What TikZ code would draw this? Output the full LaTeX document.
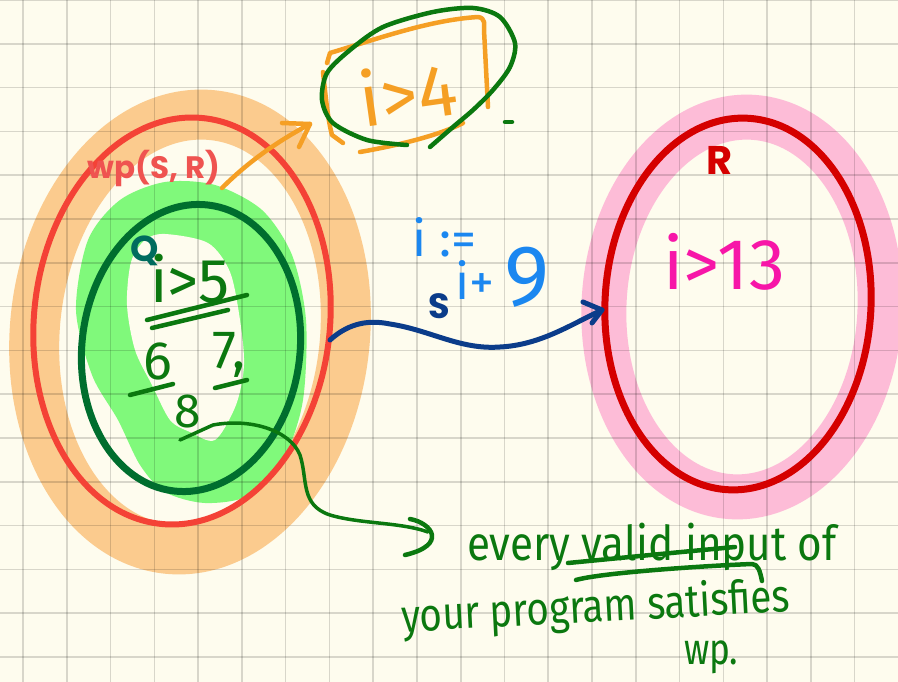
\documentclass[tikz,border=0pt]{standalone}
\usepackage{fontspec}
\usepackage{graphicx}
\setmainfont{Fira Sans}
\newfontfamily\lbl{Poppins}
\definecolor{bg}{HTML}{FEFCEE}
\definecolor{orband}{HTML}{FBCB8E}
\definecolor{wpred}{HTML}{F44236}
\definecolor{wplbl}{HTML}{EF5350}
\definecolor{lgreen}{HTML}{80F97B}
\definecolor{qgreen}{HTML}{006E2E}
\definecolor{qteal}{HTML}{006C5E}
\definecolor{hgreen}{HTML}{0B780F}
\definecolor{orpen}{HTML}{F59F24}
\definecolor{navy}{HTML}{0B3C8A}
\definecolor{bluepen}{HTML}{1B87F0}
\definecolor{pinkband}{HTML}{FDBCD7}
\definecolor{rred}{HTML}{D50000}
\definecolor{magpen}{HTML}{F716A8}
\tikzset{
  pen/.style={line width=4.5, line cap=round, line join=round},
  hand/.style={inner sep=0pt, outer sep=0pt},
  lab/.style={inner sep=0pt, font=\lbl\bfseries}
}
\begin{document}
\begin{tikzpicture}[x=1pt,y=-1pt]
\useasboundingbox (0,0) rectangle (898,682);
\fill[bg] (0,0) rectangle (898,682);
% highlighter bands
\draw[orband, line width=50, rotate around={-6:(190,332)}] (190,332) ellipse [x radius=155, y radius=218];
\fill[lgreen] plot[smooth cycle] coordinates {(165,182) (215,185) (262,210) (292,255) (306,320) (303,400) (285,455) (250,495) (205,503) (165,492) (140,465) (118,420) (92,375) (76,310) (88,240) (120,200)};
\fill[bg] plot[smooth cycle] coordinates {(165,234) (208,243) (230,272) (240,320) (244,365) (236,405) (215,440) (190,432) (170,420) (152,385) (135,350) (127,305) (131,262) (145,240)};
\draw[pinkband, line width=45, rotate around={-3:(742,307)}] (742,307) ellipse [x radius=138, y radius=190];
% grid
\foreach \i in {0,...,20} \draw[black, opacity=0.15, line width=1.6] ({23+43.77*\i},0) -- ({23+43.77*\i},682);
\foreach \j in {0,...,15} \draw[black, opacity=0.15, line width=1.6] (0,{43.8*\j}) -- (898,{43.8*\j});
% ellipses
\draw[wpred, line width=6, rotate around={-6:(182,321)}] (182,321) ellipse [x radius=148, y radius=204];
\draw[qgreen, line width=7, rotate around={-7:(191,348)}] (191,348) ellipse [x radius=109, y radius=144];
\draw[rred, line width=7, rotate around={-3:(738,304)}] (738,304) ellipse [x radius=133, y radius=186];
% labels
\node[lab, text=wplbl, font=\lbl\bfseries\fontsize{31}{31}\selectfont] (wp) at (154,168) {wp(S, R)};
\node[lab, text=qteal, font=\lbl\bfseries\fontsize{36}{36}\selectfont] (q) at (145,251) {Q};
\node[lab, text=rred, font=\lbl\bfseries\fontsize{40}{40}\selectfont] (r) at (720,160) {R};
\node[lab, text=navy, font=\lbl\bfseries\fontsize{35}{35}\selectfont] (s) at (439,306) {S};
% orange arrow and i>4
\coordinate (oa1) at (222,188);
\coordinate (oa2) at (310,124);
\draw[orpen, pen] (oa1) .. controls (250,160) and (280,140) .. (oa2);
\draw[orpen, pen] (282,123) -- (oa2) -- (299,147);
\draw[orpen, pen] (327,63) -- (330,53) .. controls (380,38) and (430,20) .. (478,17) .. controls (486,18) and (484,25) .. (484,30) -- (488,107);
\draw[orpen, pen] (323,72) .. controls (326,100) and (328,120) .. (332,135) -- (343,143);
\draw[orpen, pen] (360,152) .. controls (400,145) and (440,135) .. (463,123);
\node[hand, text=orpen, rotate=8, font=\fontsize{74}{74}\selectfont] (i4) at (408,92) {i>4};
\draw[hgreen, pen] plot[smooth] coordinates {(407,145) (367,140) (333,123) (322,100) (327,73) (350,50) (383,27) (433,12) (473,8) (500,17) (515,43) (510,67) (493,90) (473,110) (453,127) (430,147)};
\draw[hgreen, pen] (505,122) -- (512,122);
% Q contents
\node[hand, text=hgreen, font=\fontsize{62}{62}\selectfont] (i5) at (190,279) {i>5};
\draw[hgreen, pen] (147,320) -- (247,295);
\draw[hgreen, pen] (152,328) -- (228,310);
\node[hand, text=hgreen, font=\fontsize{54}{54}\selectfont] (n6) at (158,361) {6};
\draw[hgreen, pen] (130,395) -- (173,384);
\node[hand, text=hgreen, font=\fontsize{54}{54}\selectfont] (n7) at (229,355) {7,};
\draw[hgreen, pen] (215,388) -- (247,380);
\node[hand, text=hgreen, font=\fontsize{48}{48}\selectfont] (n8) at (188,411) {8};
% green arrow to note
\coordinate (g0) at (180,440);
\coordinate (g1) at (213,425);
\coordinate (g2) at (428,532);
\draw[hgreen, line width=3.5, line cap=round, line join=round] (g0) -- (g1) .. controls (250,418) and (290,430) .. (300,455) .. controls (308,480) and (300,505) .. (330,515) .. controls (360,524) and (400,522) .. (g2);
\draw[hgreen, pen] (410,519) .. controls (432,523) and (448,545) .. (405,555);
% S arrow
\coordinate (sa0) at (330,340);
\coordinate (sa1) at (602,310);
\draw[navy, line width=5, line cap=round, line join=round] (sa0) .. controls (350,322) and (370,320) .. (390,324) .. controls (430,330) and (460,350) .. (500,347) .. controls (540,345) and (570,325) .. (sa1);
\draw[navy, line width=5, line cap=round, line join=round] (583,302) -- (sa1) -- (592,323);
% blue text
\node[hand, text=bluepen, anchor=base west, font=\fontsize{50}{50}\selectfont] (assign) at (412,257) {i :=};
\node[hand, text=bluepen, anchor=base west] (expr) at (455,299) {\fontsize{50}{50}\selectfont i+\hspace{10pt}\fontsize{86}{86}\selectfont\raisebox{-6pt}{9}};
% R contents
\node[hand, text=magpen, font=\fontsize{72}{72}\selectfont] (i13) at (724,262) {i>13};
% note
\node[hand, text=hgreen, anchor=base west, font=\fontsize{48}{48}\selectfont] (l1) at (467,560) {\scalebox{0.88}[1]{every valid input of}};
\node[hand, text=hgreen, anchor=base west, rotate=3, font=\fontsize{46}{46}\selectfont] (l2) at (402,632) {\scalebox{0.84}[1]{your program satisfies}};
\node[hand, text=hgreen, anchor=base west, font=\fontsize{44}{44}\selectfont] (l3) at (684,664) {\scalebox{0.8}[1]{wp.}};
\draw[hgreen, pen] (568,563) .. controls (620,558) and (680,552) .. (735,547);
\draw[hgreen, pen] (576,580) .. controls (600,573) and (700,566) .. (752,564) .. controls (758,564) and (760,571) .. (762,581);
\end{tikzpicture}
\end{document}
